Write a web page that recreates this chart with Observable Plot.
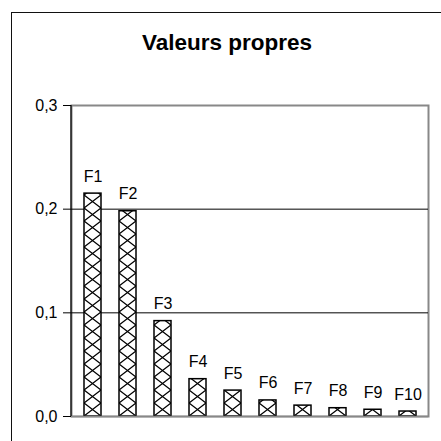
<!DOCTYPE html>
<html>
<head>
<meta charset="utf-8">
<script src="https://cdn.jsdelivr.net/npm/d3@7"></script>
<script src="https://cdn.jsdelivr.net/npm/@observablehq/plot@0.6"></script>
<style>
  html, body { margin: 0; padding: 0; background: #fff; }
  #wrap { position: relative; width: 441px; height: 441px; overflow: hidden; font-family: "Liberation Sans", Arial, sans-serif; }
  #border { position: absolute; left: 11px; top: 12px; width: 440px; height: 440px; border: 1.5px solid #111; box-sizing: border-box; }
  #title { position: absolute; left: 27px; width: 400px; top: 30px; text-align: center; font-weight: bold; font-size: 22.5px; line-height: 26px; color: #000; }
  #chart { position: absolute; left: 0; top: 0; }
</style>
</head>
<body>
<div id="wrap">
  <div id="border"></div>
  <div id="title">Valeurs propres</div>
  <div id="chart"></div>
</div>
<script>
const factors = ["F1","F2","F3","F4","F5","F6","F7","F8","F9","F10"];
const eigenvalues = [0.215, 0.198, 0.092, 0.036, 0.025, 0.0155, 0.0105, 0.008, 0.0065, 0.0048];
const yTicks = [0, 0.1, 0.2, 0.3];
const gridValues = [0.1, 0.2];

const data = factors.map((f, i) => ({factor: f, value: eigenvalues[i]}));
const fmt = v => d3.format(".1f")(v).replace(".", ",");

const plot = Plot.plot({
  width: 441,
  height: 441,
  marginLeft: 71,
  marginRight: 13,
  marginTop: 105,
  marginBottom: 25,
  style: {fontFamily: "Liberation Sans, Arial, sans-serif", background: "transparent", color: "#000"},
  x: {domain: factors, paddingInner: 0.52, paddingOuter: 0.26, axis: null},
  y: {domain: [0, 0.3], ticks: yTicks, tickFormat: fmt, label: null},
  marks: [
    Plot.frame({stroke: "#888", strokeWidth: 2}),
    Plot.ruleY(gridValues, {stroke: "#000", strokeWidth: 1}),
    Plot.barY(data, {x: "factor", y: "value", fill: "#fff", stroke: "#000", strokeWidth: 1.5, className: "hatchbar"}),
    Plot.text(data, {x: "factor", y: "value", text: "factor", lineAnchor: "bottom", dy: -12, fontSize: 16, fill: "#000"}),
    Plot.axisY({ticks: yTicks, tickFormat: fmt, tickSize: 8, tickPadding: 6, fontSize: 16, label: null, stroke: "#000"}),
    Plot.ruleY([0], {stroke: "#888", strokeWidth: 1.5})
  ]
});

// left value-axis line
(function addAxisLine(svg){
  const ns = "http://www.w3.org/2000/svg";
  const line = document.createElementNS(ns, "line");
  line.setAttribute("x1", 71); line.setAttribute("x2", 71);
  line.setAttribute("y1", 105); line.setAttribute("y2", 416);
  line.setAttribute("stroke", "#000"); line.setAttribute("stroke-width", 1.2);
  svg.appendChild(line);
})(plot);

// crosshatch pattern per bar, centred on each bar
(function hatch(svg){
  const ns = "http://www.w3.org/2000/svg";
  const defs = document.createElementNS(ns, "defs");
  svg.insertBefore(defs, svg.firstChild);
  svg.querySelectorAll(".hatchbar rect").forEach((r, i) => {
    const x = +r.getAttribute("x"), y = +r.getAttribute("y");
    const w = +r.getAttribute("width"), h = +r.getAttribute("height");
    const p = document.createElementNS(ns, "pattern");
    p.setAttribute("id", "hatch" + i);
    p.setAttribute("patternUnits", "userSpaceOnUse");
    p.setAttribute("x", x); p.setAttribute("y", y + h);
    p.setAttribute("width", w); p.setAttribute("height", 13);
    const bg = document.createElementNS(ns, "rect");
    bg.setAttribute("width", w); bg.setAttribute("height", 13); bg.setAttribute("fill", "#fff");
    p.appendChild(bg);
    const path = document.createElementNS(ns, "path");
    path.setAttribute("d", `M0,0L${w},13M${w},0L0,13`);
    path.setAttribute("stroke", "#000"); path.setAttribute("stroke-width", 1.3); path.setAttribute("fill", "none");
    p.appendChild(path);
    defs.appendChild(p);
    r.setAttribute("fill", `url(#hatch${i})`);
  });
})(plot);

document.getElementById("chart").appendChild(plot);
</script>
</body>
</html>
